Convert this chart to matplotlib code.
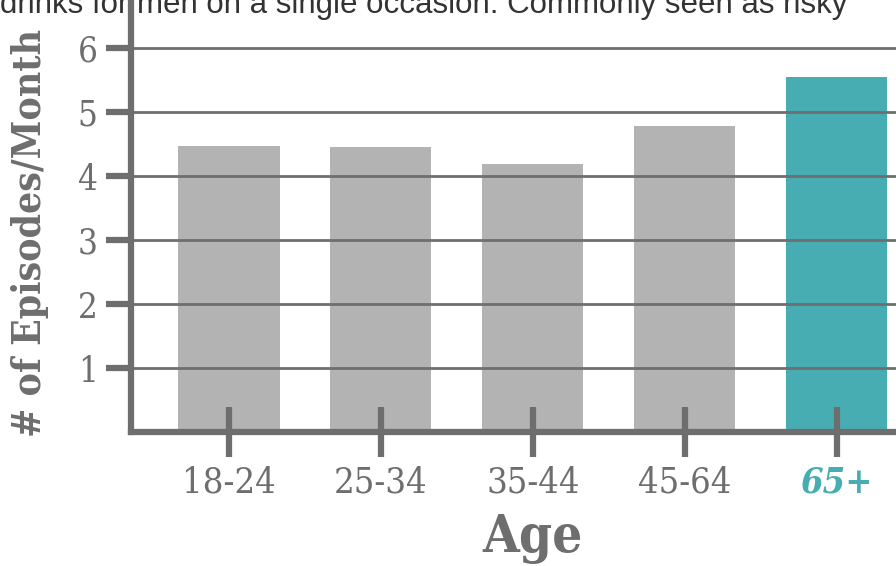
import matplotlib
matplotlib.use("Agg")
import matplotlib.pyplot as plt

categories = ["18-24", "25-34", "35-44", "45-64", "65+"]
values = [4.47, 4.45, 4.19, 4.78, 5.55]
yticks = [1, 2, 3, 4, 5, 6]
highlight = "65+"

GRAY_BAR = "#b3b3b3"
TEAL = "#48adb3"
AXIS = "#6e6e6e"

fig = plt.figure(figsize=(8.96, 5.66), dpi=100)
ax = fig.add_axes([131/896, (566-432)/566, 1 - 131/896, 432/566])

x = list(range(len(categories)))
colors = [TEAL if c == highlight else GRAY_BAR for c in categories]
ax.bar(x, values, width=0.665, color=colors, zorder=1)

for t in yticks:
    ax.axhline(t, color=AXIS, lw=2.0, zorder=2)

ax.set_xlim(-0.645, 4.39)
ax.set_ylim(0, 6.75)

for s in ["top", "right"]:
    ax.spines[s].set_visible(False)
for s in ["left", "bottom"]:
    ax.spines[s].set_color(AXIS)
    ax.spines[s].set_linewidth(4.5)
    ax.spines[s].set_zorder(3)

ax.set_yticks(yticks)
ax.set_yticklabels([str(t) for t in yticks], fontsize=25, color=AXIS,
                   family="DejaVu Serif", fontstretch="condensed")
ax.tick_params(axis="y", length=18, width=4.5, color=AXIS, pad=6, direction="out")

ax.set_xticks(x)
ax.set_xticklabels(categories, fontsize=26, color=AXIS,
                   family="DejaVu Serif", fontstretch="condensed")
ax.tick_params(axis="x", length=36, width=4.5, color=AXIS, pad=6, direction="inout")
for lbl, c in zip(ax.get_xticklabels(), categories):
    if c == highlight:
        lbl.set_color(TEAL)
        lbl.set_fontweight("bold")
        lbl.set_fontstyle("italic")

fig.text(30/896, 1 - 233/566, "# of Episodes/Month", rotation=90, ha="center", va="center",
         fontsize=28, fontweight="bold", color=AXIS, family="DejaVu Serif", fontstretch="condensed")
fig.text(533/896, 1 - 538/566, "Age", ha="center", va="center",
         fontsize=38, fontweight="bold", color=AXIS, family="DejaVu Serif", fontstretch="condensed")
fig.text(0, 1 - 13/566, "drinks for men on a single occasion. Commonly seen as risky",
         ha="left", va="baseline", fontsize=22.5, color="#333333", family="Liberation Sans")

fig.savefig("out.png", dpi=100)
